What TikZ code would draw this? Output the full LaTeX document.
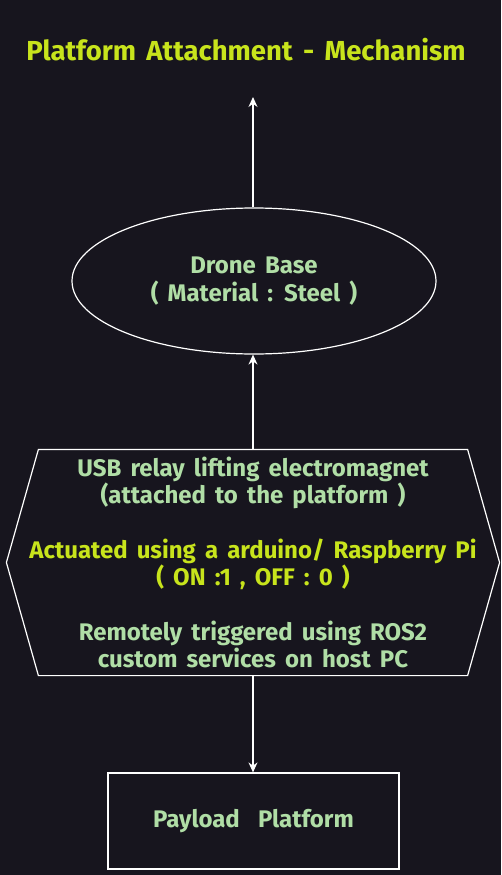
\documentclass[tikz,border=0pt]{standalone}
\usepackage{fontspec}
\setmainfont[WordSpace=1.6]{Fira Sans}
\usetikzlibrary{arrows.meta,shapes.geometric}

\definecolor{bgdark}{RGB}{23,21,30}
\definecolor{limetext}{RGB}{200,228,28}
\definecolor{mintext}{RGB}{176,222,166}

\tikzset{
    block/.style={draw=white,line width=1.2pt,text=mintext,font=\bfseries\fontsize{24}{27.5}\selectfont,align=center,inner sep=0pt},
    link/.style={draw=white,line width=1.2pt,-{Stealth[length=10pt,width=9pt]}}
}

\begin{document}
\begin{tikzpicture}[x=1pt,y=-1pt]
\fill[bgdark] (0,0) rectangle (501,875);
\useasboundingbox (0,0) rectangle (501,875);

\node[text=limetext,font=\bfseries\fontsize{27.5}{30}\selectfont] (title) at (246,50) {Platform Attachment - Mechanism};

\begin{scope}[every node/.style={block}]
    \node[ellipse,minimum width=364pt,minimum height=146pt] (base) at (254,281)
        {Drone Base\\( Material : Steel )};
    \node[draw=none,minimum width=428pt,minimum height=225pt] (relay) at (253,562.5) {};
    \node[draw=none] (relaytext) at (relay.center)
        {USB relay lifting electromagnet\\(attached to the platform )\\[27pt]
         \textcolor{limetext}{Actuated using a arduino/ Raspberry Pi}\\
         \textcolor{limetext}{( ON :1 , OFF : 0 )}\\[27pt]
         Remotely triggered using ROS2\\custom services on host PC};
    \node[rectangle,minimum width=291pt,minimum height=96pt] (payload) at (253.5,821)
        {Payload\ \ Platform};
\end{scope}

% hexagon round the relay text
\draw[white,line width=1.2pt] (relay.north west) -- (relay.north east) -- ([xshift=32pt]relay.east)
    -- (relay.south east) -- (relay.south west) -- ([xshift=-32pt]relay.west) -- cycle;

\coordinate (up) at (253,97);

\begin{scope}[every edge/.style={link}]
    \path (base.north -| up) edge (up);
    \path (relay.north -| up) edge (base.south -| up);
    \path (relay.south -| up) edge (payload.north -| up);
\end{scope}
\end{tikzpicture}
\end{document}
